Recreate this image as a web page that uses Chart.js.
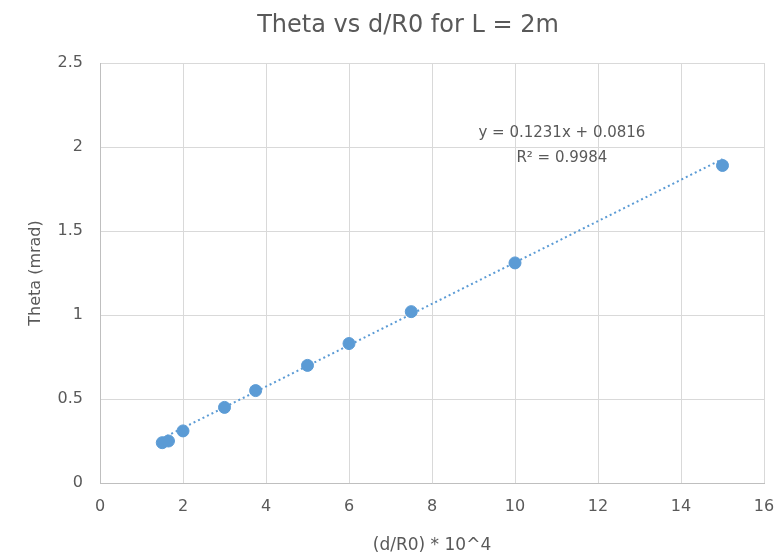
<!DOCTYPE html>
<html>
<head>
<meta charset="utf-8">
<script src="https://cdn.jsdelivr.net/npm/chart.js@4"></script>
<style>
  html, body { margin: 0; padding: 0; background: #fff; }
  #wrap { width: 784px; height: 556px; }
</style>
</head>
<body>
<div id="wrap"><canvas id="chart_theta"></canvas></div>
<script>
// measured points (d/R0 * 10^4, theta in mrad)
const dOverR0 = [1.5, 1.65, 2.0, 3.0, 3.75, 5.0, 6.0, 7.5, 10.0, 15.0];
const theta = [0.24, 0.25, 0.31, 0.45, 0.55, 0.70, 0.83, 1.02, 1.31, 1.89];

// linear trendline as printed on the chart
const slope = 0.1231;
const intercept = 0.0816;
const trendText = ["y = 0.1231x + 0.0816", "R\u00b2 = 0.9984"];
const chartTitle = 'Theta vs d/R0 for L = 2m';

const grey = '#595959';
const gridColor = '#d9d9d9';
const blue = '#5b9bd5';
const FONT = 'DejaVu Sans';

const points = dOverR0.map((x, i) => ({ x: x, y: theta[i] }));
const xFirst = dOverR0[0], xLast = dOverR0[dOverR0.length - 1];
const trend = [
    { x: xFirst, y: slope * xFirst + intercept },
    { x: xLast, y: slope * xLast + intercept }
];

/* --- titre + texte de l'equation --- */
const textLayer = {
    id: 'textLayer',
    afterDatasetsDraw(chart) {
        const ctx = chart.ctx;
        const xs = chart.scales.x, ys = chart.scales.y;
        ctx.save();
        ctx.fillStyle = grey;
        ctx.textAlign = 'center';
        ctx.textBaseline = 'alphabetic';
        ctx.font = '24px "' + FONT + '"';
        ctx.fillText(chartTitle, 408, 32);
        ctx.textBaseline = 'middle';
        ctx.font = '15px "' + FONT + '"';
        ctx.fillText(trendText[0], xs.getPixelForValue(11.13), ys.getPixelForValue(2.083));
        ctx.fillText(trendText[1], xs.getPixelForValue(11.13), ys.getPixelForValue(1.935));
        ctx.restore();
    }
};

new Chart(document.getElementById('chart_theta'), {
    type: 'scatter',
    data: {
        datasets: [
            {
                label: 'Theta',
                data: points,
                backgroundColor: blue,
                borderColor: blue,
                pointRadius: 6,
                pointHoverRadius: 6
            },
            {
                label: 'Linear (Theta)',
                data: trend,
                type: 'line',
                showLine: true,
                borderColor: blue,
                borderWidth: 2,
                borderDash: [2, 3],
                pointRadius: 0,
                fill: false
            }
        ]
    },
    options: {
        responsive: true,
        maintainAspectRatio: false,
        animation: false,
        layout: { padding: { left: 0, right: 20, top: 63, bottom: 0 } },
        plugins: {
            legend: { display: false },
            tooltip: { enabled: false },
            title: { display: false }
        },
        scales: {
            x: {
                type: 'linear',
                min: 0, max: 16,
                afterFit(scale) {
                    scale.height = 73;
                    scale.paddingLeft = 0;
                    scale.paddingRight = 0;
                },
                ticks: { stepSize: 2, color: grey, padding: 14, font: { family: FONT, size: 16 } },
                grid: { color: gridColor, drawTicks: false },
                border: { color: '#bfbfbf' },
                title: {
                    display: true,
                    text: '(d/R0) * 10^4',
                    color: grey,
                    font: { family: FONT, size: 17 },
                    padding: { bottom: 0 }
                }
            },
            y: {
                min: 0, max: 2.5,
                afterFit(scale) { scale.width = 100; },
                ticks: {
                    stepSize: 0.5, color: grey, padding: 17,
                    font: { family: FONT, size: 16 },
                    callback: v => String(v)
                },
                grid: { color: gridColor, drawTicks: false },
                border: { color: '#bfbfbf' },
                title: {
                    display: true,
                    text: 'Theta (mrad)',
                    color: grey,
                    font: { family: FONT, size: 16 },
                    padding: { top: 26 }
                }
            }
        }
    },
    plugins: [textLayer]
});
</script>
</body>
</html>
